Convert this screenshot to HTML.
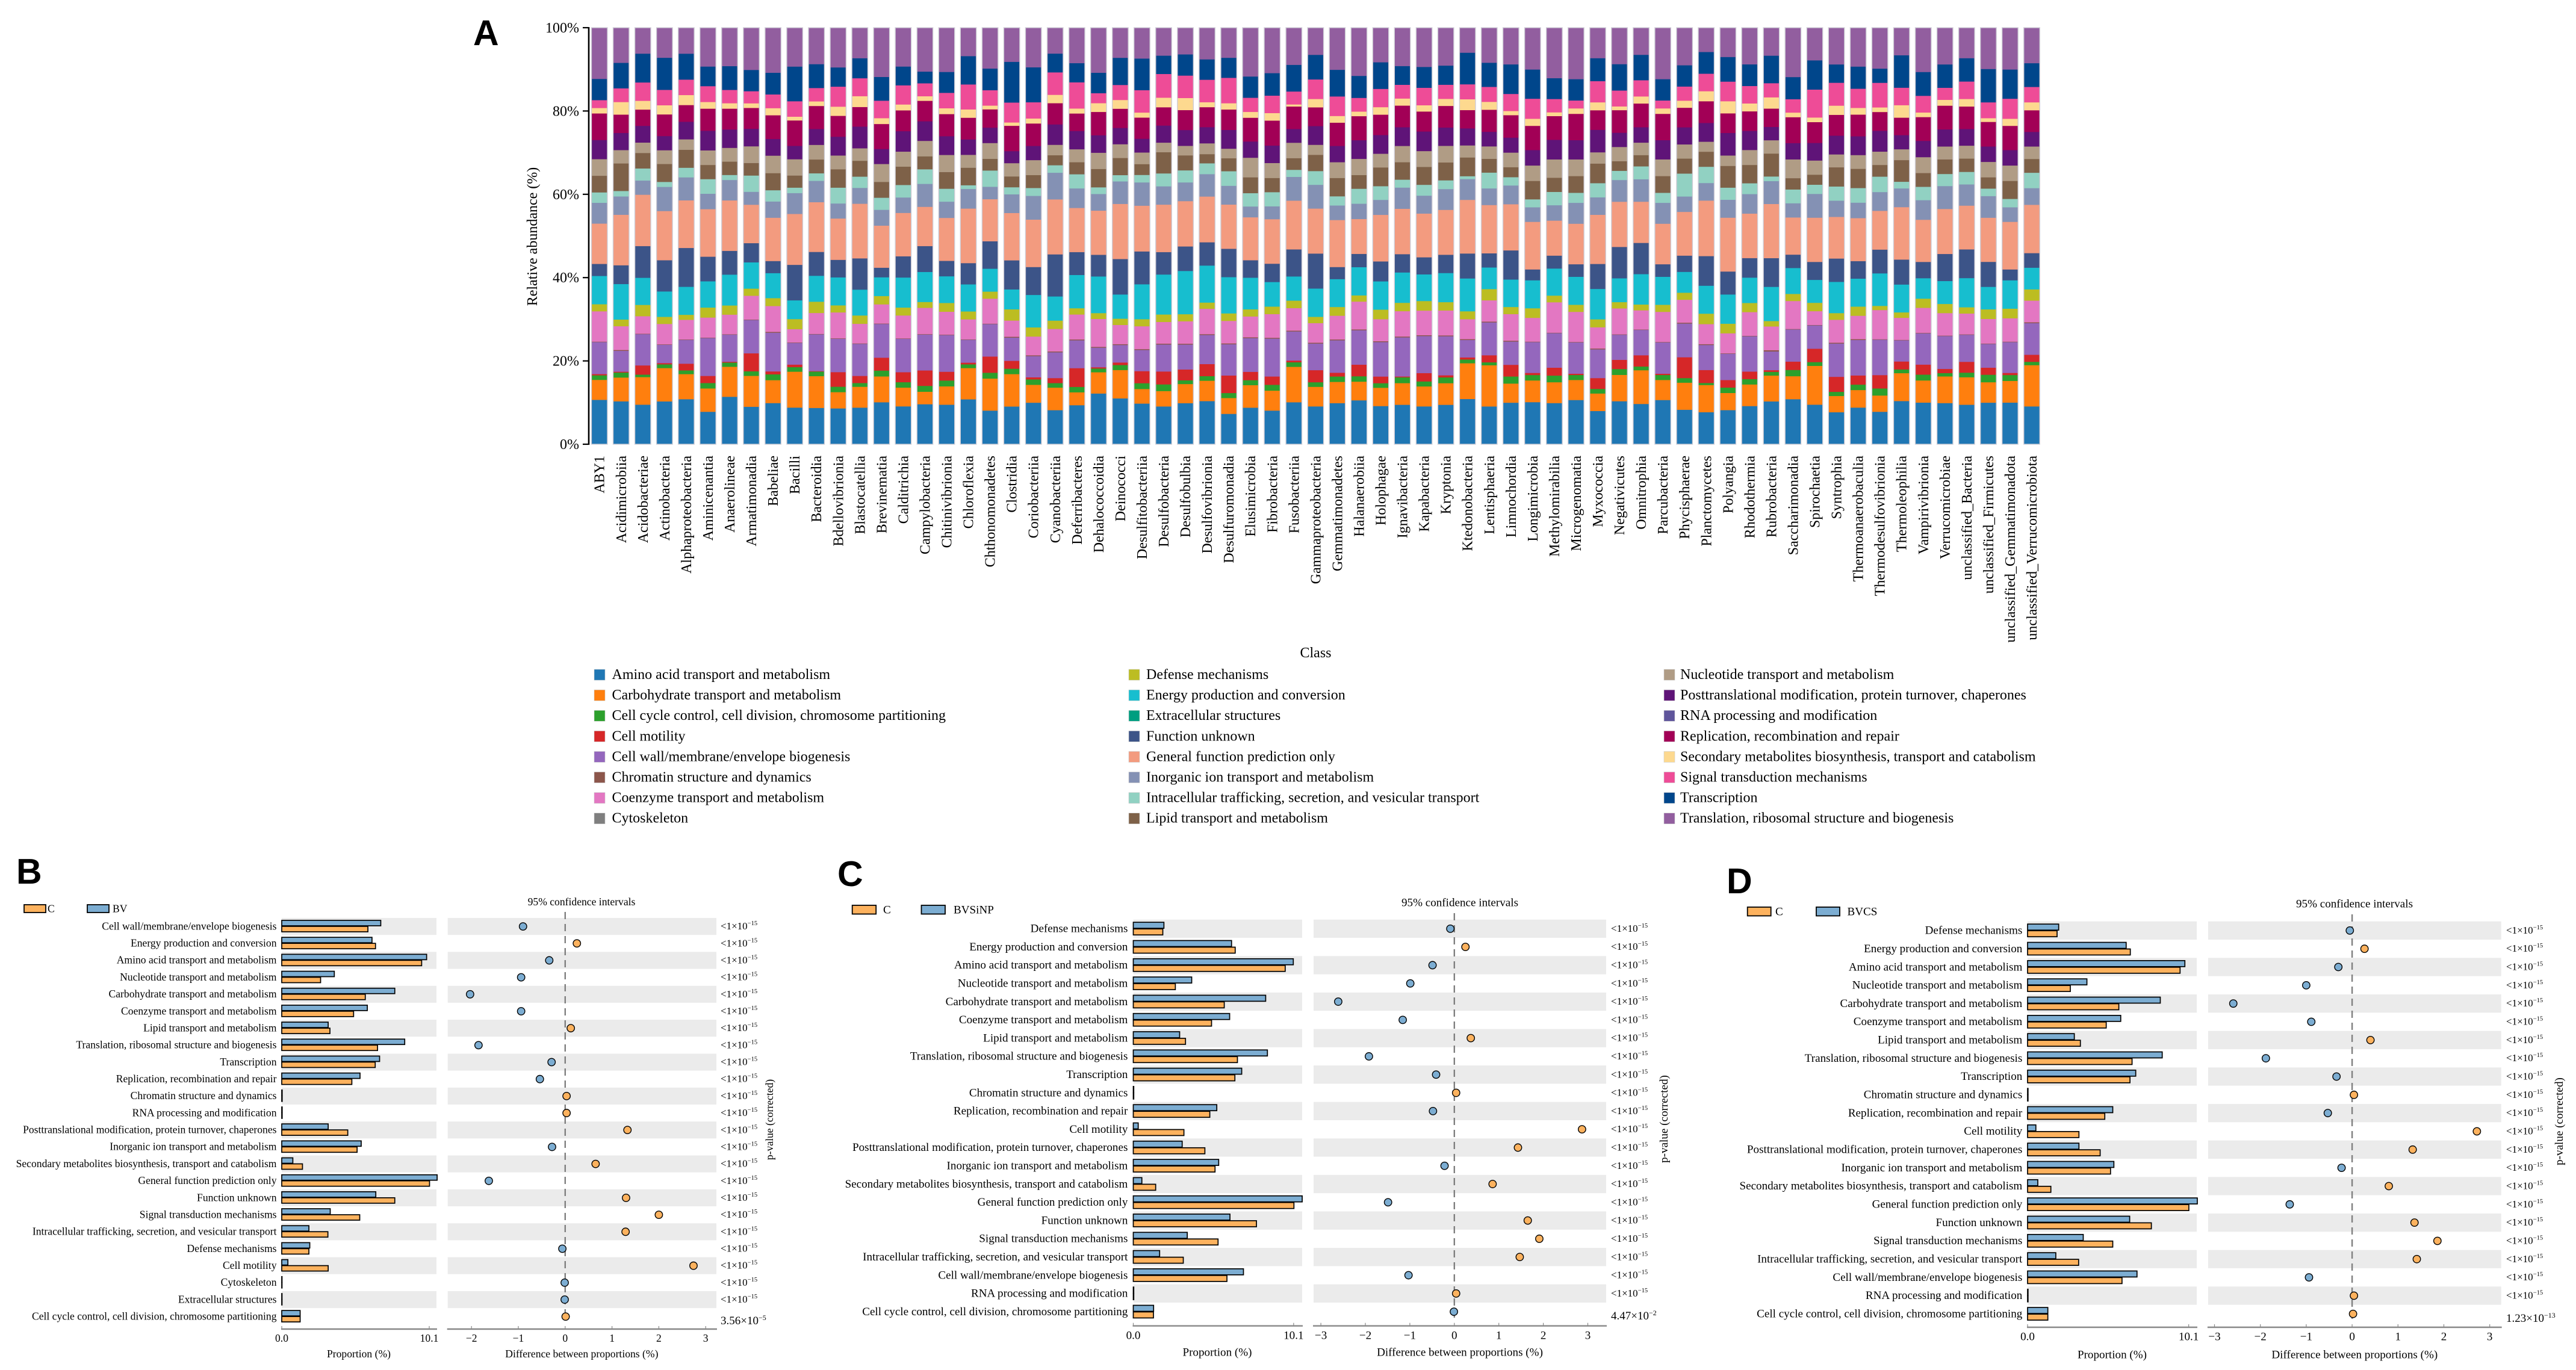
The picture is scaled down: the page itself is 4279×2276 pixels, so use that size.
<!DOCTYPE html>
<html lang="en">
<head>
<meta charset="utf-8">
<title>Functional class abundance and pairwise comparisons</title>
<style>
html,body{margin:0;padding:0;background:#fff;}
svg{display:block;font-family:"Liberation Serif",serif;}
</style>
</head>
<body>
<svg id="figure" xmlns="http://www.w3.org/2000/svg" width="4279" height="2276" viewBox="0 0 4279 2276"></svg>
<script>
/* ---------- Panel A data ---------- */
const sampleNames = ["ABY1","Acidimicrobiia","Acidobacteriae","Actinobacteria","Alphaproteobacteria","Aminicenantia","Anaerolineae","Armatimonadia","Babeliae","Bacilli","Bacteroidia","Bdellovibrionia","Blastocatellia","Brevinematia","Calditrichia","Campylobacteria","Chitinivibrionia","Chloroflexia","Chthonomonadetes","Clostridia","Coriobacteriia","Cyanobacteriia","Deferribacteres","Dehalococcoidia","Deinococci","Desulfitobacteriia","Desulfobacteria","Desulfobulbia","Desulfovibrionia","Desulfuromonadia","Elusimicrobia","Fibrobacteria","Fusobacteriia","Gammaproteobacteria","Gemmatimonadetes","Halanaerobiia","Holophagae","Ignavibacteria","Kapabacteria","Kryptonia","Ktedonobacteria","Lentisphaeria","Limnochordia","Longimicrobia","Methylomirabilia","Microgenomatia","Myxococcia","Negativicutes","Omnitrophia","Parcubacteria","Phycisphaerae","Planctomycetes","Polyangia","Rhodothermia","Rubrobacteria","Saccharimonadia","Spirochaetia","Syntrophia","Thermoanaerobaculia","Thermodesulfovibrionia","Thermoleophilia","Vampirivibrionia","Verrucomicrobiae","unclassified_Bacteria","unclassified_Firmicutes","unclassified_Gemmatimonadota","unclassified_Verrucomicrobiota"];
const classNames = ["Amino acid transport and metabolism","Carbohydrate transport and metabolism","Cell cycle control, cell division, chromosome partitioning","Cell motility","Cell wall/membrane/envelope biogenesis","Chromatin structure and dynamics","Coenzyme transport and metabolism","Cytoskeleton","Defense mechanisms","Energy production and conversion","Extracellular structures","Function unknown","General function prediction only","Inorganic ion transport and metabolism","Intracellular trafficking, secretion, and vesicular transport","Lipid transport and metabolism","Nucleotide transport and metabolism","Posttranslational modification, protein turnover, chaperones","RNA processing and modification","Replication, recombination and repair","Secondary metabolites biosynthesis, transport and catabolism","Signal transduction mechanisms","Transcription","Translation, ribosomal structure and biogenesis"];
const classColors = ["#1f77b4","#ff7f0e","#2ca02c","#d62728","#9467bd","#8c564b","#e377c2","#7f7f7f","#bcbd22","#17becf","#009e80","#3c5488","#f39b7f","#8491b4","#91d1c2","#7e6148","#b09c85","#5f1478","#5f559b","#a20056","#fdd98f","#ee4c97","#00468b","#925e9f"];
/* classes with a visible stack segment, in the same order as the values in each sample array */
const stackedClasses = [0,1,2,3,4,5,6,8,9,11,12,13,14,15,16,17,19,20,21,22,23];
const yTickValues = [0,20,40,60,80,100];

const s01=[10.7,4.8,1.1,.3,7.7,.1,7.3,1.7,6.8,2.9,9.7,5.0,2.5,4.0,4.0,4.6,6.4,1.3,1.9,5.1,12.3];
const s02=[10.3,5.7,1.2,.2,5.0,.2,5.7,1.6,8.5,4.5,12.1,4.4,1.3,6.6,3.2,4.1,4.4,3.0,3.3,6.1,8.4];
const s03=[9.5,6.6,.6,2.2,7.5,.1,4.2,2.7,6.5,7.6,12.3,3.4,2.9,3.7,2.5,4.0,3.9,2.1,4.4,6.9,6.2];
const s04=[10.3,8.0,.9,.3,4.4,.1,4.9,1.7,6.1,7.5,11.8,5.8,1.2,4.3,3.3,3.4,5.2,2.2,3.7,7.7,7.2];
const s05=[10.8,6.0,.9,1.6,5.7,.1,4.7,1.2,6.7,9.3,11.4,5.5,2.3,4.3,2.5,4.2,4.0,2.4,3.7,6.2,6.2];
const s06=[7.8,5.6,1.3,1.7,9.1,.1,4.8,2.4,6.3,5.9,11.4,3.7,3.5,3.4,3.5,4.7,5.3,1.6,3.8,4.7,9.3];
const s07=[11.4,7.2,1.0,.2,6.5,.1,4.7,2.2,7.4,5.7,12.1,4.9,1.2,3.2,3.3,4.4,5.0,1.3,3.2,5.7,9.2];
const s08=[9.0,7.4,1.1,4.3,8.0,.1,5.7,1.7,6.3,4.6,9.2,3.1,3.9,3.0,4.0,4.2,5.0,1.1,2.9,5.1,10.1];
const s09=[9.9,5.5,1.4,.7,9.3,.2,6.2,1.9,6.0,2.9,10.4,3.9,2.7,4.1,4.2,4.0,5.7,1.7,3.3,5.2,10.8];
const s10=[8.8,8.6,1.1,.6,5.2,.1,3.2,2.4,4.5,8.5,12.2,5.0,1.3,2.9,3.9,3.2,6.1,.9,3.7,8.3,9.3];
const s11=[8.7,7.6,1.1,.1,8.8,.1,5.0,2.7,6.2,5.7,11.9,5.1,1.8,3.3,3.5,3.8,5.5,1.1,3.2,5.7,8.7];
const s12=[8.6,3.9,1.3,3.5,8.0,.1,6.2,1.7,6.7,4.2,9.9,3.6,3.8,4.4,3.3,4.5,5.0,2.2,4.8,4.6,9.5];
const s13=[8.8,5.0,.9,1.7,7.7,.1,4.7,2.0,6.2,7.5,13.1,3.8,2.7,3.8,3.0,5.2,4.7,2.6,4.3,4.8,7.3];
const s14=[10.1,6.2,1.4,3.1,8.1,.1,4.6,2.0,4.5,2.3,10.1,3.8,2.9,3.8,4.3,3.6,6.0,1.4,4.2,5.7,11.8];
const s15=[9.1,4.5,1.3,2.4,8.0,.1,5.5,1.9,7.2,5.1,10.4,3.7,3.0,4.4,3.6,4.9,5.0,1.4,4.6,4.5,9.3];
const s16=[9.6,3.0,1.4,3.7,8.6,.1,6.3,1.4,7.2,6.2,9.4,5.5,3.5,3.1,3.7,4.7,4.9,1.1,3.1,2.8,10.5];
const s17=[9.5,4.4,1.4,2.1,8.8,.1,5.5,2.1,6.4,3.7,10.3,3.9,3.1,4.0,4.1,4.5,5.3,1.4,3.7,5.0,10.6];
const s18=[10.8,7.5,.9,.4,5.5,.1,4.8,1.9,6.5,5.1,13.1,4.7,.9,4.2,3.1,3.7,5.2,2.0,6.0,6.8,6.8];
const s19=[8.1,7.7,1.4,3.9,7.8,.1,6.0,1.7,5.5,6.6,10.1,3.0,3.9,2.8,3.8,3.7,4.4,.9,3.7,5.2,9.8];
const s20=[9.1,7.8,1.3,1.9,5.6,.2,3.9,2.7,4.8,7.0,11.4,4.5,1.7,2.6,3.2,2.9,6.1,.8,4.8,9.8,8.2];
const s21=[10.0,4.3,1.3,.5,5.1,.2,4.5,2.2,7.8,6.7,11.4,5.7,1.9,3.1,3.6,3.4,5.4,1.2,3.9,8.4,9.5];
const s22=[8.2,5.4,1.1,1.2,6.2,.2,5.4,2.0,5.8,10.1,13.2,6.4,1.8,2.4,2.5,4.9,5.1,2.0,5.4,4.5,6.2];
const s23=[9.4,3.1,1.3,4.5,6.7,.2,6.0,1.5,8.0,5.5,10.6,4.7,3.4,2.9,3.1,4.4,4.2,1.2,6.3,4.6,8.5];
const s24=[12.2,5.1,.9,.3,4.7,.2,6.7,1.4,8.8,5.2,10.6,4.0,1.6,4.4,3.9,4.2,5.6,2.1,2.4,4.9,10.8];
const s25=[11.0,6.8,1.2,.6,4.2,.2,4.6,1.5,5.8,8.5,13.2,5.4,1.5,4.1,3.3,3.9,4.6,2.1,3.6,6.5,7.2];
const s26=[9.8,3.5,1.4,2.9,5.1,.2,5.5,1.7,8.4,7.9,11.0,5.6,1.8,2.6,2.8,3.3,5.1,1.2,5.4,7.6,7.4];
const s27=[9.1,3.7,1.6,3.1,6.5,.2,5.2,1.8,9.6,5.4,11.4,4.4,3.1,5.1,2.3,4.1,4.4,2.3,5.7,4.4,6.7];
const s28=[9.9,4.6,.9,2.6,6.0,.2,5.4,1.7,10.4,5.9,10.9,4.5,2.9,3.6,2.3,3.8,4.8,2.9,5.4,5.1,6.4];
const s29=[10.4,4.9,1.1,2.9,7.0,.2,6.1,1.5,8.9,5.6,11.0,5.4,2.6,2.2,2.6,3.9,4.8,1.2,5.4,4.9,7.6];
const s30=[7.3,3.8,1.2,4.2,7.5,.2,5.4,1.8,8.7,6.8,10.6,4.5,3.5,3.1,2.3,4.5,4.9,1.5,6.1,4.8,7.2];
const s31=[8.8,5.4,1.2,2.0,8.1,.2,5.0,1.7,7.6,4.2,10.3,2.6,3.2,3.8,4.7,3.9,5.7,1.4,3.4,5.1,11.7];
const s32=[8.1,4.8,1.4,2.0,9.1,.2,5.7,1.8,5.9,4.4,10.7,3.1,3.4,3.4,3.6,4.2,6.0,1.8,4.2,5.4,10.9];
const s33=[10.1,8.5,1.1,.4,7.0,.2,5.4,1.8,5.8,6.5,11.7,5.7,1.7,2.8,3.7,3.3,5.4,.5,3.1,6.4,8.9];
const s34=[9.1,4.7,1.1,2.9,6.4,.2,4.7,1.5,6.8,8.4,10.8,5.7,3.3,3.9,2.4,4.5,4.5,2.0,4.7,5.9,6.5];
const s35=[9.9,5.1,1.3,.9,7.8,.2,5.7,2.1,6.7,2.9,11.3,3.5,2.2,4.4,3.8,3.9,5.6,1.6,4.7,6.4,10.1];
const s36=[10.6,4.5,1.3,2.8,8.3,.2,6.7,1.5,6.8,3.2,8.4,3.7,3.6,3.3,3.9,4.5,5.8,1.1,3.3,5.3,11.6];
const s37=[9.2,4.4,1.1,1.6,8.3,.2,5.3,2.3,6.8,4.8,11.2,3.6,3.3,4.5,3.3,4.5,4.9,1.8,4.4,6.4,8.3];
const s38=[9.5,5.2,1.4,.2,9.4,.2,6.1,2.0,7.3,4.4,10.9,5.1,1.9,4.2,3.9,4.5,5.2,1.7,3.3,4.5,9.2];
const s39=[9.1,4.8,1.2,2.0,8.9,.2,5.9,2.3,6.4,4.1,10.5,4.3,2.6,4.3,3.8,4.7,4.8,1.5,4.2,5.0,9.4];
const s40=[9.5,5.2,1.4,.5,9.4,.2,6.0,2.0,7.0,4.4,10.8,5.0,2.1,4.3,4.0,4.4,5.2,1.7,3.4,4.6,9.1];
const s41=[10.9,8.6,.9,.5,4.2,.2,4.8,1.9,7.9,6.0,12.9,5.0,.7,4.5,2.9,4.1,4.4,2.6,3.6,7.6,6.0];
const s42=[9.1,9.9,.7,1.7,7.9,.2,5.1,2.7,5.2,3.4,11.6,4.0,3.8,3.3,3.0,3.5,5.3,1.9,3.6,5.8,8.4];
const s43=[10.0,4.6,1.7,2.8,5.6,.2,6.4,1.7,6.6,7.0,11.1,4.5,2.0,2.4,3.5,3.6,5.4,1.0,4.1,7.1,8.8];
const s44=[10.1,5.2,1.3,.5,7.4,.1,5.7,2.3,6.7,2.6,11.4,3.5,1.9,4.4,3.7,3.7,5.8,1.7,4.8,7.0,10.0];
const s45=[9.9,5.0,1.6,1.9,8.3,.1,7.3,1.6,6.5,3.1,8.4,3.7,3.2,3.4,4.4,4.7,5.7,.9,3.2,5.0,12.1];
const s46=[10.6,4.8,1.2,.3,7.5,.1,7.2,1.7,6.7,3.0,9.7,5.0,2.4,4.0,4.0,4.6,6.3,1.3,1.9,5.1,12.3];
const s47=[8.0,4.2,1.1,2.6,6.9,.2,5.1,1.9,7.3,6.0,11.8,4.2,3.4,4.7,2.7,5.4,4.7,1.9,5.1,5.5,7.3];
const s48=[10.3,6.3,1.4,2.2,6.0,.1,6.2,1.5,5.7,7.5,10.8,5.2,2.2,2.3,3.4,3.4,5.4,.9,3.8,6.3,8.7];
const s49=[9.7,8.1,.9,2.7,6.1,.1,4.6,1.4,7.3,7.5,9.9,5.4,3.1,2.7,3.0,3.7,5.7,1.7,3.9,6.1,6.5];
const s50=[10.6,4.8,1.2,.3,7.5,.1,7.2,1.7,6.7,3.0,9.7,5.0,2.4,4.0,4.0,4.6,6.3,1.3,1.9,5.1,12.3];
const s51=[8.3,6.5,1.1,5.0,8.1,.2,5.5,1.7,5.0,3.9,10.5,3.7,5.5,3.6,3.4,4.1,4.7,1.7,3.4,5.1,9.0];
const s52=[7.7,6.5,.5,3.1,6.0,.2,4.8,2.5,6.7,7.1,13.3,4.2,3.9,3.6,2.4,4.5,5.2,2.4,4.2,5.2,5.8];
const s53=[8.2,4.1,1.3,1.8,6.3,.1,4.8,2.3,7.0,5.5,12.9,4.3,2.9,5.2,2.5,5.4,4.7,2.9,4.7,5.9,7.0];
const s54=[9.2,5.2,1.3,1.8,8.5,.1,5.7,2.2,6.1,4.7,10.7,4.7,2.6,4.4,3.6,4.6,4.7,1.9,4.2,5.2,8.8];
const s55=[10.3,6.2,.9,.4,4.5,.3,5.7,1.3,8.2,6.9,13.0,5.5,1.1,5.5,3.2,3.2,4.4,2.7,3.4,6.6,6.7];
const s56=[10.8,5.5,1.5,2.0,7.7,.1,6.7,1.7,6.2,3.2,8.9,3.4,3.3,2.7,4.5,3.9,6.2,1.1,3.2,5.3,11.8];
const s57=[9.5,9.3,.9,3.2,5.6,.1,3.3,2.0,5.5,4.3,10.6,5.7,2.2,2.4,3.4,4.2,5.0,1.1,6.7,7.0,7.8];
const s58=[7.7,3.9,1.0,3.6,8.0,.2,5.5,1.6,7.5,5.6,10.0,3.9,3.4,4.6,3.1,4.5,5.0,2.2,5.5,4.4,8.8];
const s59=[8.8,4.2,1.3,2.2,8.5,.2,5.6,2.2,6.7,4.2,10.3,3.7,3.5,4.6,3.3,4.5,5.2,1.6,4.6,5.3,9.3];
const s60=[7.8,3.9,1.7,3.2,8.5,.1,7.0,1.0,7.8,5.7,9.3,4.5,3.7,2.8,3.2,5.0,4.5,1.1,5.9,3.4,9.8];
const s61=[10.4,6.7,.9,1.9,5.1,.1,5.3,1.3,6.7,6.0,12.6,4.5,1.6,5.2,2.6,3.4,4.2,3.0,4.2,7.8,6.6];
const s62=[10.0,5.3,1.4,2.4,7.5,.1,6.0,2.2,4.9,3.9,10.1,4.7,3.2,3.3,3.8,3.9,5.7,1.1,4.0,5.7,10.6];
const s63=[9.9,6.4,.8,1.0,7.9,.1,5.4,2.2,5.5,6.5,10.8,5.5,2.9,3.5,3.1,4.1,5.7,1.4,2.9,5.6,8.8];
const s64=[9.5,6.6,1.1,2.6,6.5,.1,5.0,1.5,7.0,6.9,10.5,5.1,3.0,3.2,3.1,4.0,5.4,1.8,4.2,5.6,7.3];
const s65=[10.0,4.9,1.8,1.7,5.7,.1,5.9,2.3,5.4,6.0,10.6,5.2,1.8,2.7,3.7,3.7,5.9,.9,3.8,8.0,9.9];
const s66=[10.0,5.2,1.4,.5,7.4,.1,5.6,2.3,6.8,2.6,11.4,3.5,2.0,4.3,3.7,3.7,5.8,1.7,4.8,7.0,10.0];
const s67=[9.1,9.9,.8,1.7,7.6,.2,5.2,2.7,5.2,3.5,11.6,4.0,3.7,3.3,3.0,3.5,5.2,1.9,3.7,5.7,8.5];
const sampleValues=[s01,s02,s03,s04,s05,s06,s07,s08,s09,s10,s11,s12,s13,s14,s15,s16,s17,s18,s19,s20,s21,s22,s23,s24,s25,s26,s27,s28,s29,s30,s31,s32,s33,s34,s35,s36,s37,s38,s39,s40,s41,s42,s43,s44,s45,s46,s47,s48,s49,s50,s51,s52,s53,s54,s55,s56,s57,s58,s59,s60,s61,s62,s63,s64,s65,s66,s67];

/* ---------- Panels B, C, D data ---------- */
const LT = "<1×10^−15";
const panelBCategories = ["Cell wall/membrane/envelope biogenesis","Energy production and conversion","Amino acid transport and metabolism","Nucleotide transport and metabolism","Carbohydrate transport and metabolism","Coenzyme transport and metabolism","Lipid transport and metabolism","Translation, ribosomal structure and biogenesis","Transcription","Replication, recombination and repair","Chromatin structure and dynamics","RNA processing and modification","Posttranslational modification, protein turnover, chaperones","Inorganic ion transport and metabolism","Secondary metabolites biosynthesis, transport and catabolism","General function prediction only","Function unknown","Signal transduction mechanisms","Intracellular trafficking, secretion, and vesicular transport","Defense mechanisms","Cell motility","Cytoskeleton","Extracellular structures","Cell cycle control, cell division, chromosome partitioning"];
const panelBTreatment = [6.78,6.18,9.92,3.6,7.74,5.86,3.18,8.42,6.7,5.36,.03,.03,3.18,5.44,.76,10.64,6.44,3.32,1.86,1.92,.42,.02,.02,1.26];
const panelBControl = [5.9,6.42,9.58,2.66,5.72,4.92,3.3,6.56,6.4,4.8,.03,.03,4.52,5.16,1.42,10.12,7.74,5.34,3.16,1.86,3.18,.02,.02,1.26];
const panelBDifference = [-.9,.25,-.34,-.94,-2.03,-.94,.12,-1.85,-.29,-.54,.03,.03,1.33,-.28,.65,-1.63,1.3,2.0,1.29,-.06,2.74,-.01,-.01,.01];
const panelBPValues = [LT,LT,LT,LT,LT,LT,LT,LT,LT,LT,LT,LT,LT,LT,LT,LT,LT,LT,LT,LT,LT,LT,LT,"3.56×10^−5"];

const panelCCategories = ["Defense mechanisms","Energy production and conversion","Amino acid transport and metabolism","Nucleotide transport and metabolism","Carbohydrate transport and metabolism","Coenzyme transport and metabolism","Lipid transport and metabolism","Translation, ribosomal structure and biogenesis","Transcription","Chromatin structure and dynamics","Replication, recombination and repair","Cell motility","Posttranslational modification, protein turnover, chaperones","Inorganic ion transport and metabolism","Secondary metabolites biosynthesis, transport and catabolism","General function prediction only","Function unknown","Signal transduction mechanisms","Intracellular trafficking, secretion, and vesicular transport","Cell wall/membrane/envelope biogenesis","RNA processing and modification","Cell cycle control, cell division, chromosome partitioning"];
const panelCTreatment = [1.93,6.19,10.08,3.68,8.34,6.07,2.92,8.45,6.83,.03,5.26,.31,3.08,5.38,.54,10.64,6.09,3.4,1.66,6.94,.03,1.28];
const panelCControl = [1.86,6.42,9.57,2.65,5.73,4.93,3.29,6.56,6.4,.03,4.82,3.19,4.51,5.15,1.41,10.12,7.76,5.34,3.15,5.9,.03,1.27];
const panelCDifference = [-.09,.25,-.49,-.99,-2.61,-1.16,.37,-1.92,-.41,.04,-.48,2.87,1.43,-.22,.86,-1.49,1.65,1.91,1.47,-1.03,.04,-.01];
const panelCPValues = [LT,LT,LT,LT,LT,LT,LT,LT,LT,LT,LT,LT,LT,LT,LT,LT,LT,LT,LT,LT,LT,"4.47×10^−2"];

const panelDCategories = panelCCategories.slice();
const panelDTreatment = [1.95,6.18,9.86,3.72,8.32,5.84,2.93,8.44,6.78,.03,5.34,.52,3.22,5.41,.64,10.64,6.4,3.49,1.77,6.86,.03,1.27];
const panelDControl = [1.85,6.44,9.56,2.68,5.72,4.93,3.31,6.55,6.42,.03,4.84,3.22,4.55,5.2,1.46,10.11,7.76,5.34,3.2,5.92,.03,1.27];
const panelDDifference = [-.05,.27,-.3,-1.0,-2.59,-.89,.4,-1.88,-.34,.04,-.53,2.72,1.32,-.23,.8,-1.36,1.36,1.86,1.41,-.94,.04,.02];
const panelDPValues = [LT,LT,LT,LT,LT,LT,LT,LT,LT,LT,LT,LT,LT,LT,LT,LT,LT,LT,LT,LT,LT,"1.23×10^−13"];

const proportionTicks = [0, 10.1];
const proportionTickLabels = ["0.0", "10.1"];
const panelBDiffTicks = [-2,-1,0,1,2,3];
const panelCDiffTicks = [-3,-2,-1,0,1,2,3];
const panelDDiffTicks = [-3,-2,-1,0,1,2,3];

/* ---------- Drawing ---------- */
const SVG_NS = "http://www.w3.org/2000/svg";
const root = document.getElementById("figure");
function mk(tag, attrs, parent, text) {
  const node = document.createElementNS(SVG_NS, tag);
  for (const k in attrs) node.setAttribute(k, attrs[k]);
  if (text !== undefined) node.textContent = text;
  parent.appendChild(node);
  return node;
}
function slug(s) {
  return s.toLowerCase().replace(/[^a-z0-9]+/g, "-").replace(/^-|-$/g, "");
}
const SANS = '"Liberation Sans",sans-serif';

function drawPanelLetter(letter, x, y) {
  const t = mk("text", {x: x, y: y, "font-family": SANS, "font-weight": "bold", "font-size": 59, fill: "#000"}, root, letter);
  
  
}

/* Panel A */
(function drawPanelA() {
  const g = mk("g", {}, root);
  
  
  const yScale = v => 738 - v * 6.92;
  const xCenter = i => 995.7 + i * 36.05;
  const barWidth = 25.3;

  sampleValues.forEach((vals, i) => {
    const total = vals.reduce((a, b) => a + b, 0);
    const bar = mk("g", {}, g);
    
    
    let cum = 0;
    vals.forEach((v, j) => {
      const share = v / total * 100;
      const y1 = yScale(cum), y2 = yScale(cum + share);
      cum += share;
      const seg = mk("rect", {x: xCenter(i) - barWidth / 2, y: y2, width: barWidth, height: y1 - y2, fill: classColors[stackedClasses[j]], stroke: classColors[stackedClasses[j]], "stroke-width": 0.6}, bar);
      
      
    });
    const edge = mk("rect", {x: xCenter(i) - barWidth / 2 - 0.6, y: yScale(100), width: barWidth + 1.2, height: yScale(0) - yScale(100), fill: "none", stroke: "#cfcdd6", "stroke-width": 1.4}, bar);
    
    
    const label = mk("text", {transform: "translate(" + (xCenter(i) + 8) + ",757) rotate(-90)", "text-anchor": "end", "font-size": 24, fill: "#000"}, g, sampleNames[i]);
    
    
  });

  const axis = mk("line", {x1: 978, x2: 978, y1: yScale(100) - 1, y2: yScale(0) + 1, stroke: "#000", "stroke-width": 2.6}, g);
  
  
  yTickValues.forEach(v => {
    const tick = mk("line", {x1: 968, x2: 978, y1: yScale(v), y2: yScale(v), stroke: "#000", "stroke-width": 2.2}, g);
    
    
    const lab = mk("text", {x: 962, y: yScale(v) + 8, "text-anchor": "end", "font-size": 24, fill: "#000"}, g, v + "%");
    
    
  });
  const yTitle = mk("text", {transform: "translate(892,393) rotate(-90)", "text-anchor": "middle", "font-size": 24, fill: "#000"}, g, "Relative abundance (%)");
  
  
  const xTitle = mk("text", {x: 2185.5, y: 1092, "text-anchor": "middle", "font-size": 24, fill: "#000"}, g, "Class");
  
  

  const legend = mk("g", {}, g);
  
  
  const colSwatchX = [987, 1875, 2764];
  const colTextX = [1016.5, 1904, 2791];
  classNames.forEach((name, i) => {
    const col = Math.floor(i / 8), row = i % 8;
    const yy = 1112 + row * 34.1;
    const entry = mk("g", {}, legend);
    
    
    const sw = mk("rect", {x: colSwatchX[col], y: yy, width: 18, height: 18, fill: classColors[i], stroke: "#ccc", "stroke-width": 0.6}, entry);
    
    
    const tx = mk("text", {x: colTextX[col], y: yy + 16, "font-size": 24, fill: "#000"}, entry, name);
    
    
  });
})();

/* Panels B, C, D */
const BLUE = "#7cadd2", ORANGE = "#fdb25e";
function drawComparisonPanel(L, categories, treatment, control, difference, pValues, diffTicks) {
  const g = mk("g", {}, root);
  
  
  const xProp = v => L.prop0 + v * L.propScale;
  const xDiff = v => L.diff0 + v * L.diffUnit;
  const rowY = i => L.rowTop + i * L.rowH;
  const fs = L.font;

  categories.forEach((name, i) => {
    if (i % 2 === 0) {
      const b1 = mk("rect", {x: L.leftX0, y: rowY(i), width: L.leftX1 - L.leftX0, height: L.rowH, fill: "#ebebeb"}, g);
      
      
      const b2 = mk("rect", {x: L.rightX0, y: rowY(i), width: L.rightX1 - L.rightX0, height: L.rowH, fill: "#ebebeb"}, g);
      
      
    }
  });
  const dash = mk("line", {x1: L.diff0, x2: L.diff0, y1: L.dashY0, y2: L.dashY1, stroke: "#7f7f7f", "stroke-width": 2.4, "stroke-dasharray": "12 8"}, g);
  
  

  categories.forEach((name, i) => {
    const cy = rowY(i) + L.rowH / 2;
    const label = mk("text", {x: L.labelRight, y: cy + fs * 0.3, "text-anchor": "end", "font-size": fs, fill: "#000"}, g, name);
    
    
    const barT = mk("rect", {x: xProp(0), y: rowY(i) + L.barOffset, width: xProp(treatment[i]) - xProp(0), height: L.barH, fill: BLUE, stroke: "#000", "stroke-width": 1.7}, g);
    
    
    const barC = mk("rect", {x: xProp(0), y: rowY(i) + L.barOffset + L.barH + 1, width: xProp(control[i]) - xProp(0), height: L.barH, fill: ORANGE, stroke: "#000", "stroke-width": 1.7}, g);
    
    
    const dot = mk("circle", {cx: xDiff(difference[i]), cy: cy, r: 6.2, fill: difference[i] < 0 ? BLUE : ORANGE, stroke: "#000", "stroke-width": 1.4}, g);
    
    
    const parts = pValues[i].split("^");
    const isLast = i === categories.length - 1;
    const pText = mk("text", {x: L.pX, y: cy + (isLast ? 13 : 5), "font-size": isLast ? 19 : 17, fill: "#000"}, g, parts[0]);
    
    
    mk("tspan", {dy: -7, "font-size": isLast ? 12 : 10.5}, pText, parts[1]);
  });

  const axisL = mk("line", {x1: L.leftX0 - 1, x2: L.leftX1 + 1, y1: L.axisY, y2: L.axisY, stroke: "#888", "stroke-width": 2.4}, g);
  
  
  proportionTicks.forEach((v, i) => {
    const t = mk("line", {x1: xProp(v), x2: xProp(v), y1: L.axisY - 5, y2: L.axisY, stroke: "#888", "stroke-width": 1.2}, g);
    
    
    const lab = mk("text", {x: xProp(v), y: L.tickY + 6, "text-anchor": "middle", "font-size": fs, fill: "#000"}, g, proportionTickLabels[i]);
    
    
  });
  const pTitle = mk("text", {x: L.propTitleX, y: L.titleY + 6, "text-anchor": "middle", "font-size": fs, fill: "#000"}, g, "Proportion (%)");
  
  

  const axisR = mk("line", {x1: L.rightX0 - 1, x2: L.rightX1 + 1, y1: L.axisY, y2: L.axisY, stroke: "#888", "stroke-width": 2.4}, g);
  
  
  diffTicks.forEach(v => {
    const t = mk("line", {x1: xDiff(v), x2: xDiff(v), y1: L.axisY - 5, y2: L.axisY, stroke: "#888", "stroke-width": 1.2}, g);
    
    
    const lab = mk("text", {x: xDiff(v), y: L.tickY + 6, "text-anchor": "middle", "font-size": fs, fill: "#000"}, g, v < 0 ? "−" + (-v) : String(v));
    
    
  });
  const dTitle = mk("text", {x: (L.rightX0 + L.rightX1) / 2 + L.diffTitleShift, y: L.titleY + 6, "text-anchor": "middle", "font-size": fs, fill: "#000"}, g, "Difference between proportions (%)");
  
  
  const conf = mk("text", {x: L.confX, y: L.confY + 5, "text-anchor": "middle", "font-size": fs, fill: "#000"}, g, "95% confidence intervals");
  
  
  const pAxis = mk("text", {transform: "translate(" + L.pLabelX + "," + L.pLabelY + ") rotate(-90)", "text-anchor": "middle", "font-size": fs, fill: "#000"}, g, "p-value (corrected)");
  
  

  const legend = mk("g", {}, g);
  
  
  const sw1 = mk("rect", {x: L.sw1X, y: L.swY, width: L.swW, height: L.swH, fill: ORANGE, stroke: "#000", "stroke-width": 1.8}, legend);
  
  
  const tx1 = mk("text", {x: L.tx1X, y: L.swY + L.swH / 2 + 6, "font-size": fs, fill: "#000"}, legend, "C");
  
  
  const sw2 = mk("rect", {x: L.sw2X, y: L.swY, width: L.swW, height: L.swH, fill: BLUE, stroke: "#000", "stroke-width": 1.8}, legend);
  
  
  const tx2 = mk("text", {x: L.tx2X, y: L.swY + L.swH / 2 + 6, "font-size": fs, fill: "#000"}, legend, L.group);
  
  
}

drawPanelLetter("A", 786, 75);
drawPanelLetter("B", 27, 1468);
drawPanelLetter("C", 1391, 1472);
drawPanelLetter("D", 2868, 1484);

drawComparisonPanel({id: "b", group: "BV", font: 17.6, rowTop: 1525, rowH: 28.18, barH: 9, barOffset: 4, leftX0: 468, leftX1: 725, rightX0: 743.7, rightX1: 1190, prop0: 468, propScale: 24.26, diff0: 938.8, diffUnit: 77.8, axisY: 2208, labelRight: 459.5, tickY: 2223, titleY: 2249, propTitleX: 596, diffTitleShift: -0.5, confX: 966, confY: 1499, dashY0: 1515, dashY1: 2194, pX: 1197, pLabelX: 1284, pLabelY: 1860, sw1X: 40, sw2X: 145, swY: 1503, swW: 36, swH: 13, tx1X: 79, tx2X: 187}, panelBCategories, panelBTreatment, panelBControl, panelBDifference, panelBPValues, panelBDiffTicks);

drawComparisonPanel({id: "c", group: "BVSiNP", font: 19.1, rowTop: 1527.7, rowH: 30.3, barH: 10, barOffset: 4.5, leftX0: 1882.5, leftX1: 2163, rightX0: 2182, rightX1: 2668, prop0: 1882.5, propScale: 26.37, diff0: 2415.8, diffUnit: 73.9, axisY: 2202.7, labelRight: 1873.4, tickY: 2218.5, titleY: 2246.5, propTitleX: 2022, diffTitleShift: 0, confX: 2425, confY: 1500.6, dashY0: 1517, dashY1: 2189, pX: 2676, pLabelX: 2770, pLabelY: 1859, sw1X: 1415.7, sw2X: 1530.5, swY: 1504, swW: 39.5, swH: 14.5, tx1X: 1467, tx2X: 1584}, panelCCategories, panelCTreatment, panelCControl, panelCDifference, panelCPValues, panelCDiffTicks);

drawComparisonPanel({id: "d", group: "BVCS", font: 19.1, rowTop: 1530.7, rowH: 30.33, barH: 10, barOffset: 4.5, leftX0: 3368, leftX1: 3649, rightX0: 3667.9, rightX1: 4154.7, prop0: 3368, propScale: 26.5, diff0: 3907.1, diffUnit: 76.2, axisY: 2205, labelRight: 3359.3, tickY: 2220.5, titleY: 2250.6, propTitleX: 3508.5, diffTitleShift: 0, confX: 3911, confY: 1502.6, dashY0: 1519, dashY1: 2194, pX: 4163, pLabelX: 4257, pLabelY: 1863, sw1X: 2902.7, sw2X: 3017, swY: 1507, swW: 39, swH: 14.5, tx1X: 2949, tx2X: 3068.5}, panelDCategories, panelDTreatment, panelDControl, panelDDifference, panelDPValues, panelDDiffTicks);
</script>
</body>
</html>
